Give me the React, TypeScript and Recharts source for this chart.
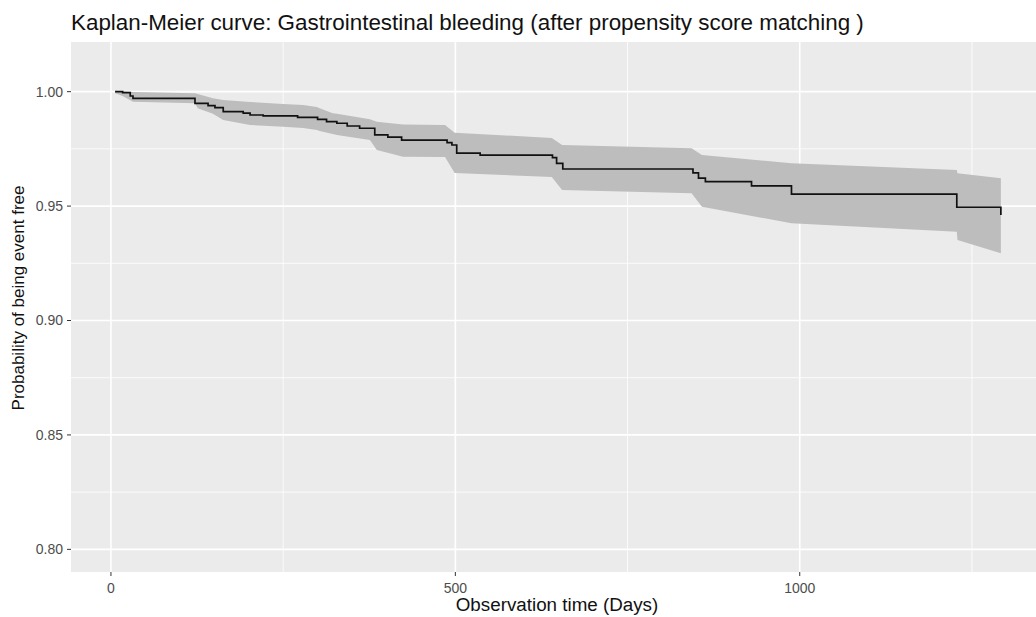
import React from 'react';
import { Area, CartesianGrid, ComposedChart, Line, XAxis, YAxis } from 'recharts';

// Kaplan-Meier step curve (time in days, survival probability)
const curveTimes = [
  6, 17, 28, 32, 122, 141, 151, 163, 192, 202, 221, 271, 300, 313, 328, 343, 361, 383, 402, 422,
  488, 495, 502, 536, 641, 647, 656, 845, 853, 863, 930, 988, 1228, 1292,
];
const curveSurv = [
  1.0, 0.9996, 0.9981, 0.9971, 0.9949, 0.9939, 0.993, 0.9913, 0.9906, 0.9898, 0.9894, 0.9888,
  0.9879, 0.9869, 0.9862, 0.985, 0.984, 0.9811, 0.9801, 0.9788, 0.9777, 0.9767, 0.9731, 0.9723,
  0.9712, 0.9687, 0.9662, 0.9645, 0.9622, 0.9607, 0.9588, 0.9552, 0.9495, 0.9461,
];

// confidence band
const bandTimes = [
  6, 17, 32, 122, 126, 148, 163, 202, 250, 279, 299, 303, 322, 328, 376, 386, 424, 485, 499, 640,
  655, 843, 858, 988, 1228, 1229, 1292,
];
const bandLower = [
  0.9993, 0.9981, 0.9956, 0.9949, 0.9927, 0.9903, 0.9876, 0.9854, 0.9847, 0.9841, 0.9833, 0.9828,
  0.9815, 0.9811, 0.9789, 0.9745, 0.9716, 0.9715, 0.9645, 0.9627, 0.957, 0.9556, 0.9497, 0.9425,
  0.9388, 0.9352, 0.9294,
];
const bandUpper = [
  1.0004, 1.0001, 0.9999, 0.9993, 0.999, 0.9971, 0.9964, 0.9955, 0.9946, 0.9942, 0.9933, 0.9927,
  0.9906, 0.9903, 0.9879, 0.9869, 0.9857, 0.9854, 0.982, 0.9798, 0.9767, 0.9753, 0.9723, 0.9687,
  0.9658, 0.9643, 0.9622,
];

const xTicks = [0, 500, 1000];
const xMinor = [250, 750, 1250];
const yTicks = [0.8, 0.85, 0.9, 0.95, 1.0];
const yMinor = [0.825, 0.875, 0.925, 0.975];

const curve = curveTimes.map((t, i) => ({ t, s: curveSurv[i] }));
const band = bandTimes.map((t, i) => ({ t, band: [bandLower[i], bandUpper[i]] }));

const FONT = '"Liberation Sans", Arial, Helvetica, sans-serif';
const tickStyle = { fill: '#4D4D4D', fontSize: 14, fontFamily: FONT };

export default function App() {
  return (
    <div style={{ position: 'relative', width: 1036, height: 617, background: '#fff', fontFamily: FONT }}>
      <style>{'body{margin:0}'}</style>
      <div style={{ position: 'absolute', left: 71, top: 12, fontSize: 22.4, lineHeight: '22.4px', color: '#111', whiteSpace: 'nowrap' }}>
        Kaplan-Meier curve: Gastrointestinal bleeding (after propensity score matching )
      </div>
      <div
        style={{
          position: 'absolute', left: 18, top: 298, fontSize: 17, lineHeight: '17px', color: '#111',
          whiteSpace: 'nowrap', transform: 'translate(-50%, -50%) rotate(-90deg)',
        }}
      >
        Probability of being event free
      </div>
      <div
        style={{
          position: 'absolute', left: 557, top: 596, fontSize: 18.8, lineHeight: '18.8px', color: '#111',
          whiteSpace: 'nowrap', transform: 'translateX(-50%)',
        }}
      >
        Observation time (Days)
      </div>
      <ComposedChart width={1036} height={617} margin={{ top: 42, right: 0, bottom: 0, left: 0 }}>
        <CartesianGrid fill="#EBEBEB" stroke="#fff" strokeWidth={0.8} horizontalValues={yMinor} verticalValues={xMinor} />
        <CartesianGrid stroke="#fff" strokeWidth={1.6} horizontalValues={yTicks} verticalValues={xTicks} />
        <XAxis
          dataKey="t" type="number" domain={[-58, 1343]} allowDataOverflow ticks={xTicks} height={45}
          axisLine={false} tickSize={4} tickMargin={7} tickLine={{ stroke: '#333' }} tick={tickStyle}
        />
        <YAxis
          type="number" domain={[0.7901, 1.0217]} allowDataOverflow ticks={yTicks} width={71}
          axisLine={false} tickSize={4} tickMargin={4} tickLine={{ stroke: '#333' }} tick={tickStyle}
          tickFormatter={(v: number) => v.toFixed(2)}
        />
        <Area data={band} dataKey="band" type="linear" stroke="none" fill="#BDBDBD" fillOpacity={1} isAnimationActive={false} activeDot={false} />
        <Line data={curve} dataKey="s" type="stepAfter" stroke="#111" strokeWidth={1.7} dot={false} activeDot={false} isAnimationActive={false} />
      </ComposedChart>
    </div>
  );
}
